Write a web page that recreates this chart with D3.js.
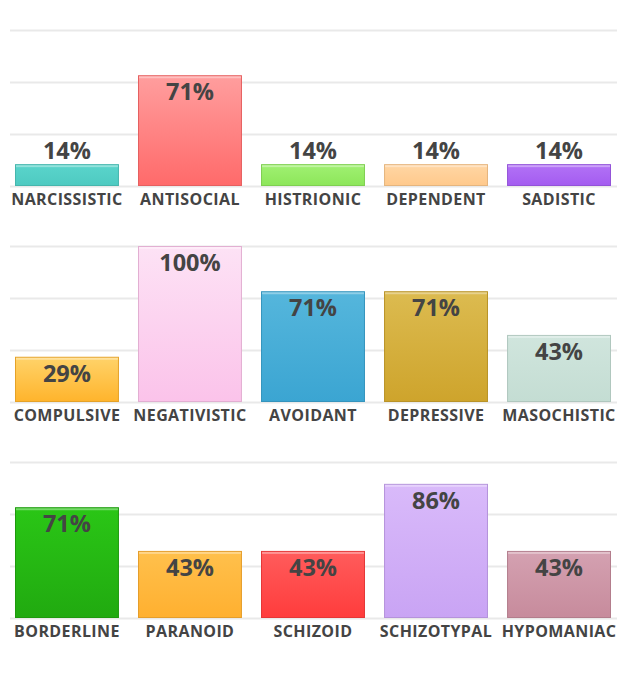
<html>
    <head>
        <style>
            body {
              margin: 0;
              background: #fff;
            }
            text {
              font-family: "Open Sans", sans-serif;
              font-weight: bold;
              fill: #444;
            }
        </style>
        <script src="https://d3js.org/d3.v7.min.js"></script>
    </head>
    <body>
        <script>
            // one list of names and one list of percentages per row of the chart
            const rowOneNames = ["NARCISSISTIC", "ANTISOCIAL", "HISTRIONIC", "DEPENDENT", "SADISTIC"];
            const rowOneValues = [14, 71, 14, 14, 14];
            const rowTwoNames = ["COMPULSIVE", "NEGATIVISTIC", "AVOIDANT", "DEPRESSIVE", "MASOCHISTIC"];
            const rowTwoValues = [29, 100, 71, 71, 43];
            const rowThreeNames = ["BORDERLINE", "PARANOID", "SCHIZOID", "SCHIZOTYPAL", "HYPOMANIAC"];
            const rowThreeValues = [71, 43, 43, 86, 43];
            const gridTicks = [0, 100 / 3, 200 / 3, 100];

            // top and bottom shade of every bar
            const rowOneColors = [["#5ad4cb", "#4ecac1"], ["#ff9e9e", "#ff6a6a"], ["#a0f072", "#8de65a"], ["#ffd6a4", "#ffc98c"], ["#b272f6", "#a45cf0"]];
            const rowTwoColors = [["#ffd36a", "#ffb42c"], ["#fde2f5", "#fbc3ea"], ["#55b6dc", "#3ba5d2"], ["#dcbb50", "#cea42c"], ["#d0e5dd", "#c4ddd3"]];
            const rowThreeColors = [["#2ac616", "#21aa10"], ["#ffc04c", "#ffb030"], ["#ff5c5c", "#ff3c3c"], ["#d9bafa", "#c9a4f4"], ["#d4a1b1", "#c78b9c"]];

            const rows = [
                {names: rowOneNames, values: rowOneValues, colors: rowOneColors},
                {names: rowTwoNames, values: rowTwoValues, colors: rowTwoColors},
                {names: rowThreeNames, values: rowThreeValues, colors: rowThreeColors}
            ];

            const w = 626;
            const h = 680;
            const plotH = 156;
            const rowTop = 30;
            const rowStep = 216;

            const svg = d3.select("body")
                .append("svg")
                .attr("width", w)
                .attr("height", h);
            const defs = svg.append("defs");

            const yScale = d3.scaleLinear()
                .domain([0, 100])
                .range([plotH, 0]);

            rows.forEach((row, r) => {
                const xScale = d3.scaleBand()
                    .domain(row.names)
                    .range([15, 611])
                    .paddingInner(0.155)
                    .paddingOuter(0);

                const g = svg.append("g")
                    .attr("transform", "translate(0," + (rowTop + r * rowStep) + ")");

                // gridlines from a left axis with long ticks
                const grid = d3.axisLeft(yScale)
                    .tickValues(gridTicks)
                    .tickSize(-607)
                    .tickFormat("");
                g.append("g")
                    .attr("class", "grid")
                    .attr("transform", "translate(10,0)")
                    .call(grid)
                    .call(s => s.select(".domain").remove())
                    .call(s => s.selectAll("line")
                        .attr("stroke", "#e9e9e9")
                        .attr("stroke-width", 2));

                const items = row.names.map((n, i) => ({name: n, value: row.values[i], colors: row.colors[i], id: "g" + r + "_" + i}));

                items.forEach(d => {
                    const grad = defs.append("linearGradient")
                        .attr("id", d.id)
                        .attr("x1", 0).attr("y1", 0)
                        .attr("x2", 0).attr("y2", 1);
                    grad.append("stop").attr("offset", "0%").attr("stop-color", d.colors[0]);
                    grad.append("stop").attr("offset", "100%").attr("stop-color", d.colors[1]);
                });

                g.selectAll(".bar")
                    .data(items)
                    .enter()
                    .append("rect")
                    .attr("class", "bar")
                    .attr("x", d => xScale(d.name) + 0.5)
                    .attr("y", d => yScale(d.value) + 0.5)
                    .attr("width", xScale.bandwidth() - 1)
                    .attr("height", d => plotH - yScale(d.value) - 1)
                    .attr("fill", d => "url(#" + d.id + ")")
                    .attr("stroke", d => d3.color(d.colors[1]).darker(0.3))
                    .attr("stroke-width", 1);

                // thin light strip along the top of each bar
                g.selectAll(".shine")
                    .data(items)
                    .enter()
                    .append("rect")
                    .attr("class", "shine")
                    .attr("x", d => xScale(d.name) + 1)
                    .attr("y", d => yScale(d.value) + 1)
                    .attr("width", xScale.bandwidth() - 2)
                    .attr("height", 2)
                    .attr("fill", "#fff")
                    .attr("opacity", 0.35);

                g.selectAll(".value")
                    .data(items)
                    .enter()
                    .append("text")
                    .attr("class", "value")
                    .attr("x", d => xScale(d.name) + xScale.bandwidth() / 2)
                    .attr("y", d => (plotH - yScale(d.value) > 30) ? yScale(d.value) + 25 : yScale(d.value) - 5)
                    .attr("text-anchor", "middle")
                    .style("font-size", "23.5px")
                    .text(d => d.value + "%");

                g.selectAll(".name")
                    .data(items)
                    .enter()
                    .append("text")
                    .attr("class", "name")
                    .attr("x", d => xScale(d.name) + xScale.bandwidth() / 2)
                    .attr("y", plotH + 19)
                    .attr("text-anchor", "middle")
                    .style("font-size", "16px")
                    .style("letter-spacing", "0.4px")
                    .text(d => d.name);
            });
        </script>
    </body>
</html>
